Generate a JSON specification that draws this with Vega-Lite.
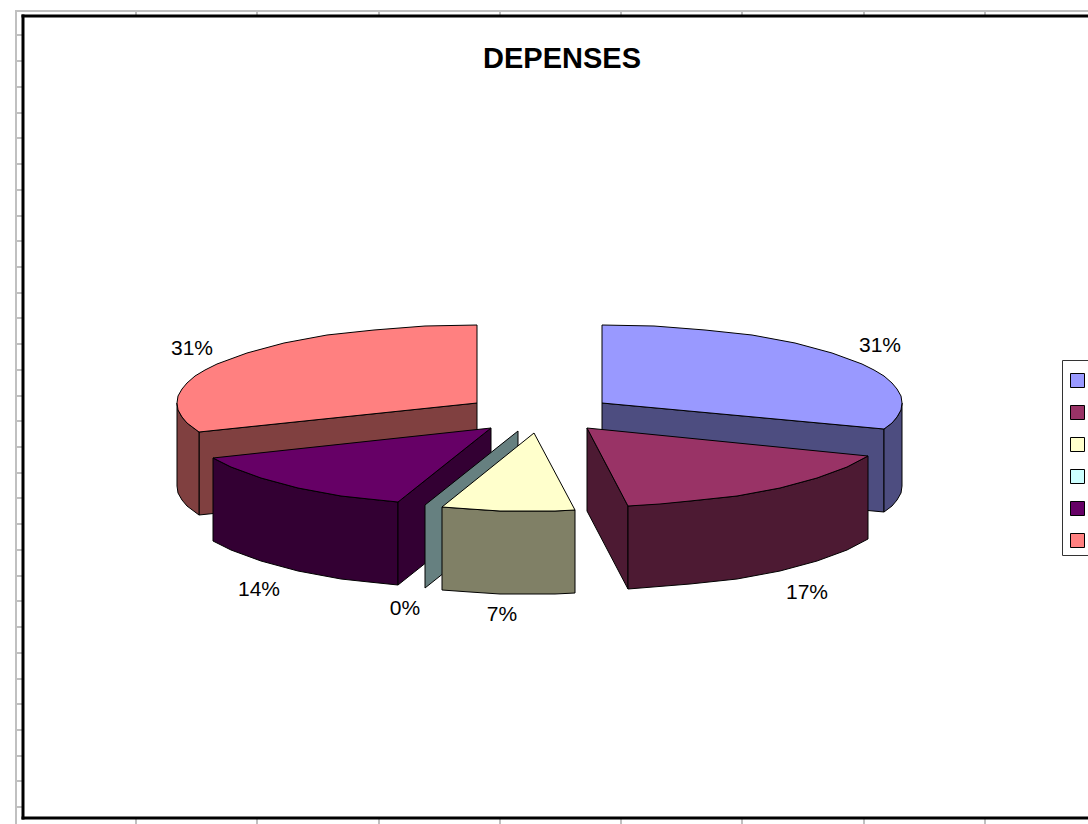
{"$schema":"https://vega.github.io/schema/vega-lite/v6.json","width":1088,"height":824,"padding":0,"autosize":"none","background":"white","view":{"stroke":null},
"title":{"text":"DEPENSES","font":"Liberation Sans","fontSize":29,"fontWeight":"bold","color":"black","anchor":"middle","dx":18,"dy":107,"baseline":"bottom"},
"datasets":{
"sheet":[{"x":16,"x2":16,"y":11,"y2":824},{"x":15,"x2":1088,"y":11,"y2":11},
{"x":136,"x2":136,"y":11,"y2":16},{"x":257,"x2":257,"y":11,"y2":16},{"x":379,"x2":379,"y":11,"y2":16},{"x":500,"x2":500,"y":11,"y2":16},{"x":621,"x2":621,"y":11,"y2":16},{"x":742,"x2":742,"y":11,"y2":16},{"x":864,"x2":864,"y":11,"y2":16},{"x":985,"x2":985,"y":11,"y2":16},
{"x":136,"x2":136,"y":818,"y2":824},{"x":257,"x2":257,"y":818,"y2":824},{"x":379,"x2":379,"y":818,"y2":824},{"x":500,"x2":500,"y":818,"y2":824},{"x":621,"x2":621,"y":818,"y2":824},{"x":742,"x2":742,"y":818,"y2":824},{"x":864,"x2":864,"y":818,"y2":824},{"x":985,"x2":985,"y":818,"y2":824},
{"x":16,"x2":22,"y":35,"y2":35},{"x":16,"x2":22,"y":61,"y2":61},{"x":16,"x2":22,"y":87,"y2":87},{"x":16,"x2":22,"y":113,"y2":113},{"x":16,"x2":22,"y":138,"y2":138},{"x":16,"x2":22,"y":164,"y2":164},{"x":16,"x2":22,"y":190,"y2":190},{"x":16,"x2":22,"y":216,"y2":216},{"x":16,"x2":22,"y":241,"y2":241},{"x":16,"x2":22,"y":267,"y2":267},{"x":16,"x2":22,"y":293,"y2":293},{"x":16,"x2":22,"y":318,"y2":318},{"x":16,"x2":22,"y":344,"y2":344},{"x":16,"x2":22,"y":370,"y2":370},{"x":16,"x2":22,"y":396,"y2":396},{"x":16,"x2":22,"y":421,"y2":421},{"x":16,"x2":22,"y":447,"y2":447},{"x":16,"x2":22,"y":473,"y2":473},{"x":16,"x2":22,"y":498,"y2":498},{"x":16,"x2":22,"y":524,"y2":524},{"x":16,"x2":22,"y":550,"y2":550},{"x":16,"x2":22,"y":576,"y2":576},{"x":16,"x2":22,"y":601,"y2":601},{"x":16,"x2":22,"y":627,"y2":627},{"x":16,"x2":22,"y":653,"y2":653},{"x":16,"x2":22,"y":679,"y2":679},{"x":16,"x2":22,"y":704,"y2":704},{"x":16,"x2":22,"y":730,"y2":730},{"x":16,"x2":22,"y":756,"y2":756},{"x":16,"x2":22,"y":781,"y2":781},{"x":16,"x2":22,"y":807,"y2":807}],
"frame":[{"x":23,"x2":23,"y":14.5,"y2":819.5},{"x":21.5,"x2":1088,"y":16,"y2":16},{"x":21.5,"x2":1088,"y":818,"y2":818}],
"labels":[{"label":"31%","x":880,"y":346},{"label":"17%","x":807,"y":593},{"label":"7%","x":502,"y":615},{"label":"0%","x":405,"y":609},{"label":"14%","x":259,"y":590},{"label":"31%","x":192,"y":349}],
"faces":[
{"p":"01","part":"s1d","i":1,"x":602,"y":403},{"p":"01","part":"s1d","i":2,"x":884,"y":429},{"p":"01","part":"s1d","i":3,"x":884,"y":512},{"p":"01","part":"s1d","i":4,"x":602,"y":486},{"p":"01","part":"s1d","i":5,"x":602,"y":403},
{"p":"02","part":"s1d","i":1,"x":884,"y":429},{"p":"02","part":"s1d","i":2,"x":892,"y":423},{"p":"02","part":"s1d","i":3,"x":897,"y":417},{"p":"02","part":"s1d","i":4,"x":901,"y":410},{"p":"02","part":"s1d","i":5,"x":902,"y":403},{"p":"02","part":"s1d","i":6,"x":902,"y":486},{"p":"02","part":"s1d","i":7,"x":901,"y":493},{"p":"02","part":"s1d","i":8,"x":897,"y":500},{"p":"02","part":"s1d","i":9,"x":892,"y":506},{"p":"02","part":"s1d","i":10,"x":884,"y":512},{"p":"02","part":"s1d","i":11,"x":884,"y":429},
{"p":"03","part":"Poste 1","i":1,"x":602,"y":403},{"p":"03","part":"Poste 1","i":2,"x":602,"y":325},{"p":"03","part":"Poste 1","i":3,"x":654,"y":326},{"p":"03","part":"Poste 1","i":4,"x":705,"y":330},{"p":"03","part":"Poste 1","i":5,"x":752,"y":335},{"p":"03","part":"Poste 1","i":6,"x":795,"y":343},{"p":"03","part":"Poste 1","i":7,"x":832,"y":353},{"p":"03","part":"Poste 1","i":8,"x":862,"y":364},{"p":"03","part":"Poste 1","i":9,"x":874,"y":370},{"p":"03","part":"Poste 1","i":10,"x":884,"y":376},{"p":"03","part":"Poste 1","i":11,"x":892,"y":383},{"p":"03","part":"Poste 1","i":12,"x":897,"y":389},{"p":"03","part":"Poste 1","i":13,"x":901,"y":396},{"p":"03","part":"Poste 1","i":14,"x":902,"y":403},{"p":"03","part":"Poste 1","i":15,"x":901,"y":410},{"p":"03","part":"Poste 1","i":16,"x":897,"y":417},{"p":"03","part":"Poste 1","i":17,"x":892,"y":423},{"p":"03","part":"Poste 1","i":18,"x":884,"y":429},{"p":"03","part":"Poste 1","i":19,"x":602,"y":403},
{"p":"04","part":"s6d","i":1,"x":199,"y":432},{"p":"04","part":"s6d","i":2,"x":477,"y":403},{"p":"04","part":"s6d","i":3,"x":477,"y":486},{"p":"04","part":"s6d","i":4,"x":199,"y":515},{"p":"04","part":"s6d","i":5,"x":199,"y":432},
{"p":"05","part":"s6d","i":1,"x":199,"y":432},{"p":"05","part":"s6d","i":2,"x":187,"y":423},{"p":"05","part":"s6d","i":3,"x":182,"y":417},{"p":"05","part":"s6d","i":4,"x":178,"y":410},{"p":"05","part":"s6d","i":5,"x":177,"y":403},{"p":"05","part":"s6d","i":6,"x":177,"y":486},{"p":"05","part":"s6d","i":7,"x":178,"y":493},{"p":"05","part":"s6d","i":8,"x":182,"y":500},{"p":"05","part":"s6d","i":9,"x":187,"y":506},{"p":"05","part":"s6d","i":10,"x":199,"y":515},{"p":"05","part":"s6d","i":11,"x":199,"y":432},
{"p":"06","part":"Poste 6","i":1,"x":477,"y":403},{"p":"06","part":"Poste 6","i":2,"x":477,"y":325},{"p":"06","part":"Poste 6","i":3,"x":425,"y":326},{"p":"06","part":"Poste 6","i":4,"x":374,"y":330},{"p":"06","part":"Poste 6","i":5,"x":327,"y":335},{"p":"06","part":"Poste 6","i":6,"x":284,"y":343},{"p":"06","part":"Poste 6","i":7,"x":247,"y":353},{"p":"06","part":"Poste 6","i":8,"x":217,"y":364},{"p":"06","part":"Poste 6","i":9,"x":205,"y":370},{"p":"06","part":"Poste 6","i":10,"x":195,"y":376},{"p":"06","part":"Poste 6","i":11,"x":187,"y":383},{"p":"06","part":"Poste 6","i":12,"x":182,"y":389},{"p":"06","part":"Poste 6","i":13,"x":178,"y":396},{"p":"06","part":"Poste 6","i":14,"x":177,"y":403},{"p":"06","part":"Poste 6","i":15,"x":178,"y":410},{"p":"06","part":"Poste 6","i":16,"x":182,"y":417},{"p":"06","part":"Poste 6","i":17,"x":187,"y":423},{"p":"06","part":"Poste 6","i":18,"x":199,"y":432},{"p":"06","part":"Poste 6","i":19,"x":477,"y":403},
{"p":"07","part":"s5d","i":1,"x":213,"y":458},{"p":"07","part":"s5d","i":2,"x":231,"y":467},{"p":"07","part":"s5d","i":3,"x":261,"y":478},{"p":"07","part":"s5d","i":4,"x":298,"y":488},{"p":"07","part":"s5d","i":5,"x":341,"y":496},{"p":"07","part":"s5d","i":6,"x":369,"y":499},{"p":"07","part":"s5d","i":7,"x":398,"y":502},{"p":"07","part":"s5d","i":8,"x":398,"y":585},{"p":"07","part":"s5d","i":9,"x":369,"y":582},{"p":"07","part":"s5d","i":10,"x":341,"y":579},{"p":"07","part":"s5d","i":11,"x":298,"y":571},{"p":"07","part":"s5d","i":12,"x":261,"y":561},{"p":"07","part":"s5d","i":13,"x":231,"y":550},{"p":"07","part":"s5d","i":14,"x":213,"y":541},{"p":"07","part":"s5d","i":15,"x":213,"y":458},
{"p":"08","part":"s5d","i":1,"x":398,"y":502},{"p":"08","part":"s5d","i":2,"x":491,"y":428},{"p":"08","part":"s5d","i":3,"x":491,"y":511},{"p":"08","part":"s5d","i":4,"x":398,"y":585},{"p":"08","part":"s5d","i":5,"x":398,"y":502},
{"p":"09","part":"Poste 5","i":1,"x":491,"y":428},{"p":"09","part":"Poste 5","i":2,"x":213,"y":458},{"p":"09","part":"Poste 5","i":3,"x":231,"y":467},{"p":"09","part":"Poste 5","i":4,"x":261,"y":478},{"p":"09","part":"Poste 5","i":5,"x":298,"y":488},{"p":"09","part":"Poste 5","i":6,"x":341,"y":496},{"p":"09","part":"Poste 5","i":7,"x":369,"y":499},{"p":"09","part":"Poste 5","i":8,"x":398,"y":502},{"p":"09","part":"Poste 5","i":9,"x":491,"y":428},
{"p":"10","part":"s4d","i":1,"x":518,"y":431},{"p":"10","part":"s4d","i":2,"x":425,"y":505},{"p":"10","part":"s4d","i":3,"x":425,"y":588},{"p":"10","part":"s4d","i":4,"x":518,"y":514},{"p":"10","part":"s4d","i":5,"x":518,"y":431},
{"p":"11","part":"s3d","i":1,"x":442,"y":507},{"p":"11","part":"s3d","i":2,"x":470,"y":509},{"p":"11","part":"s3d","i":3,"x":500,"y":511},{"p":"11","part":"s3d","i":4,"x":534,"y":511},{"p":"11","part":"s3d","i":5,"x":555,"y":511},{"p":"11","part":"s3d","i":6,"x":575,"y":510},{"p":"11","part":"s3d","i":7,"x":575,"y":593},{"p":"11","part":"s3d","i":8,"x":555,"y":594},{"p":"11","part":"s3d","i":9,"x":534,"y":594},{"p":"11","part":"s3d","i":10,"x":500,"y":594},{"p":"11","part":"s3d","i":11,"x":470,"y":592},{"p":"11","part":"s3d","i":12,"x":442,"y":590},{"p":"11","part":"s3d","i":13,"x":442,"y":507},
{"p":"12","part":"Poste 3","i":1,"x":534,"y":433},{"p":"12","part":"Poste 3","i":2,"x":575,"y":510},{"p":"12","part":"Poste 3","i":3,"x":555,"y":511},{"p":"12","part":"Poste 3","i":4,"x":534,"y":511},{"p":"12","part":"Poste 3","i":5,"x":500,"y":511},{"p":"12","part":"Poste 3","i":6,"x":470,"y":509},{"p":"12","part":"Poste 3","i":7,"x":442,"y":507},{"p":"12","part":"Poste 3","i":8,"x":534,"y":433},
{"p":"13","part":"s2d","i":1,"x":587,"y":428},{"p":"13","part":"s2d","i":2,"x":628,"y":506},{"p":"13","part":"s2d","i":3,"x":628,"y":589},{"p":"13","part":"s2d","i":4,"x":587,"y":511},{"p":"13","part":"s2d","i":5,"x":587,"y":428},
{"p":"14","part":"s2d","i":1,"x":628,"y":506},{"p":"14","part":"s2d","i":2,"x":690,"y":501},{"p":"14","part":"s2d","i":3,"x":737,"y":496},{"p":"14","part":"s2d","i":4,"x":780,"y":488},{"p":"14","part":"s2d","i":5,"x":817,"y":478},{"p":"14","part":"s2d","i":6,"x":847,"y":467},{"p":"14","part":"s2d","i":7,"x":868,"y":456},{"p":"14","part":"s2d","i":8,"x":868,"y":539},{"p":"14","part":"s2d","i":9,"x":847,"y":550},{"p":"14","part":"s2d","i":10,"x":817,"y":561},{"p":"14","part":"s2d","i":11,"x":780,"y":571},{"p":"14","part":"s2d","i":12,"x":737,"y":579},{"p":"14","part":"s2d","i":13,"x":690,"y":584},{"p":"14","part":"s2d","i":14,"x":628,"y":589},{"p":"14","part":"s2d","i":15,"x":628,"y":506},
{"p":"15","part":"Poste 2","i":1,"x":587,"y":428},{"p":"15","part":"Poste 2","i":2,"x":868,"y":456},{"p":"15","part":"Poste 2","i":3,"x":847,"y":467},{"p":"15","part":"Poste 2","i":4,"x":817,"y":478},{"p":"15","part":"Poste 2","i":5,"x":780,"y":488},{"p":"15","part":"Poste 2","i":6,"x":737,"y":496},{"p":"15","part":"Poste 2","i":7,"x":690,"y":501},{"p":"15","part":"Poste 2","i":8,"x":660,"y":504},{"p":"15","part":"Poste 2","i":9,"x":628,"y":506},{"p":"15","part":"Poste 2","i":10,"x":587,"y":428}
]},
"encoding":{"x":{"field":"x","type":"quantitative","scale":{"domain":[0,1088],"nice":false,"zero":false},"axis":null},"y":{"field":"y","type":"quantitative","scale":{"domain":[0,824],"nice":false,"zero":false,"reverse":true},"axis":null}},
"layer":[
{"data":{"name":"sheet"},"mark":{"type":"rule","color":"#c0c0c0","strokeWidth":2},"encoding":{"x2":{"field":"x2"},"y2":{"field":"y2"}}},
{"data":{"name":"frame"},"mark":{"type":"rule","color":"black","strokeWidth":3},"encoding":{"x2":{"field":"x2"},"y2":{"field":"y2"}}},
{"data":{"name":"faces"},"mark":{"type":"line","stroke":"black","strokeWidth":1,"strokeJoin":"round"},"encoding":{"detail":{"field":"p"},"order":{"field":"i","type":"quantitative"},
"fill":{"field":"part","type":"nominal","scale":{"domain":["Poste 1","Poste 2","Poste 3","Poste 4","Poste 5","Poste 6","s1d","s2d","s3d","s4d","s5d","s6d"],"range":["#9999ff","#993366","#ffffcc","#ccffff","#660066","#ff8080","#4d4d80","#4d1a33","#808066","#668080","#330033","#804040"]},
"legend":{"orient":"none","legendX":1062,"legendY":360,"values":["Poste 1","Poste 2","Poste 3","Poste 4","Poste 5","Poste 6"],"title":" ","titleFontSize":8,"titlePadding":0,"symbolType":"square","symbolSize":196,"symbolOffset":3,"symbolStrokeColor":"black","symbolStrokeWidth":1,"symbolOpacity":1,"strokeColor":"#333333","fillColor":"white","padding":5,"labelOffset":60,"labelExpr":"''","labelFontSize":1,"rowPadding":13}}}},
{"data":{"name":"labels"},"mark":{"type":"text","font":"Liberation Sans","fontSize":21,"color":"black","align":"center","baseline":"middle"},"encoding":{"text":{"field":"label"}}}
]}
